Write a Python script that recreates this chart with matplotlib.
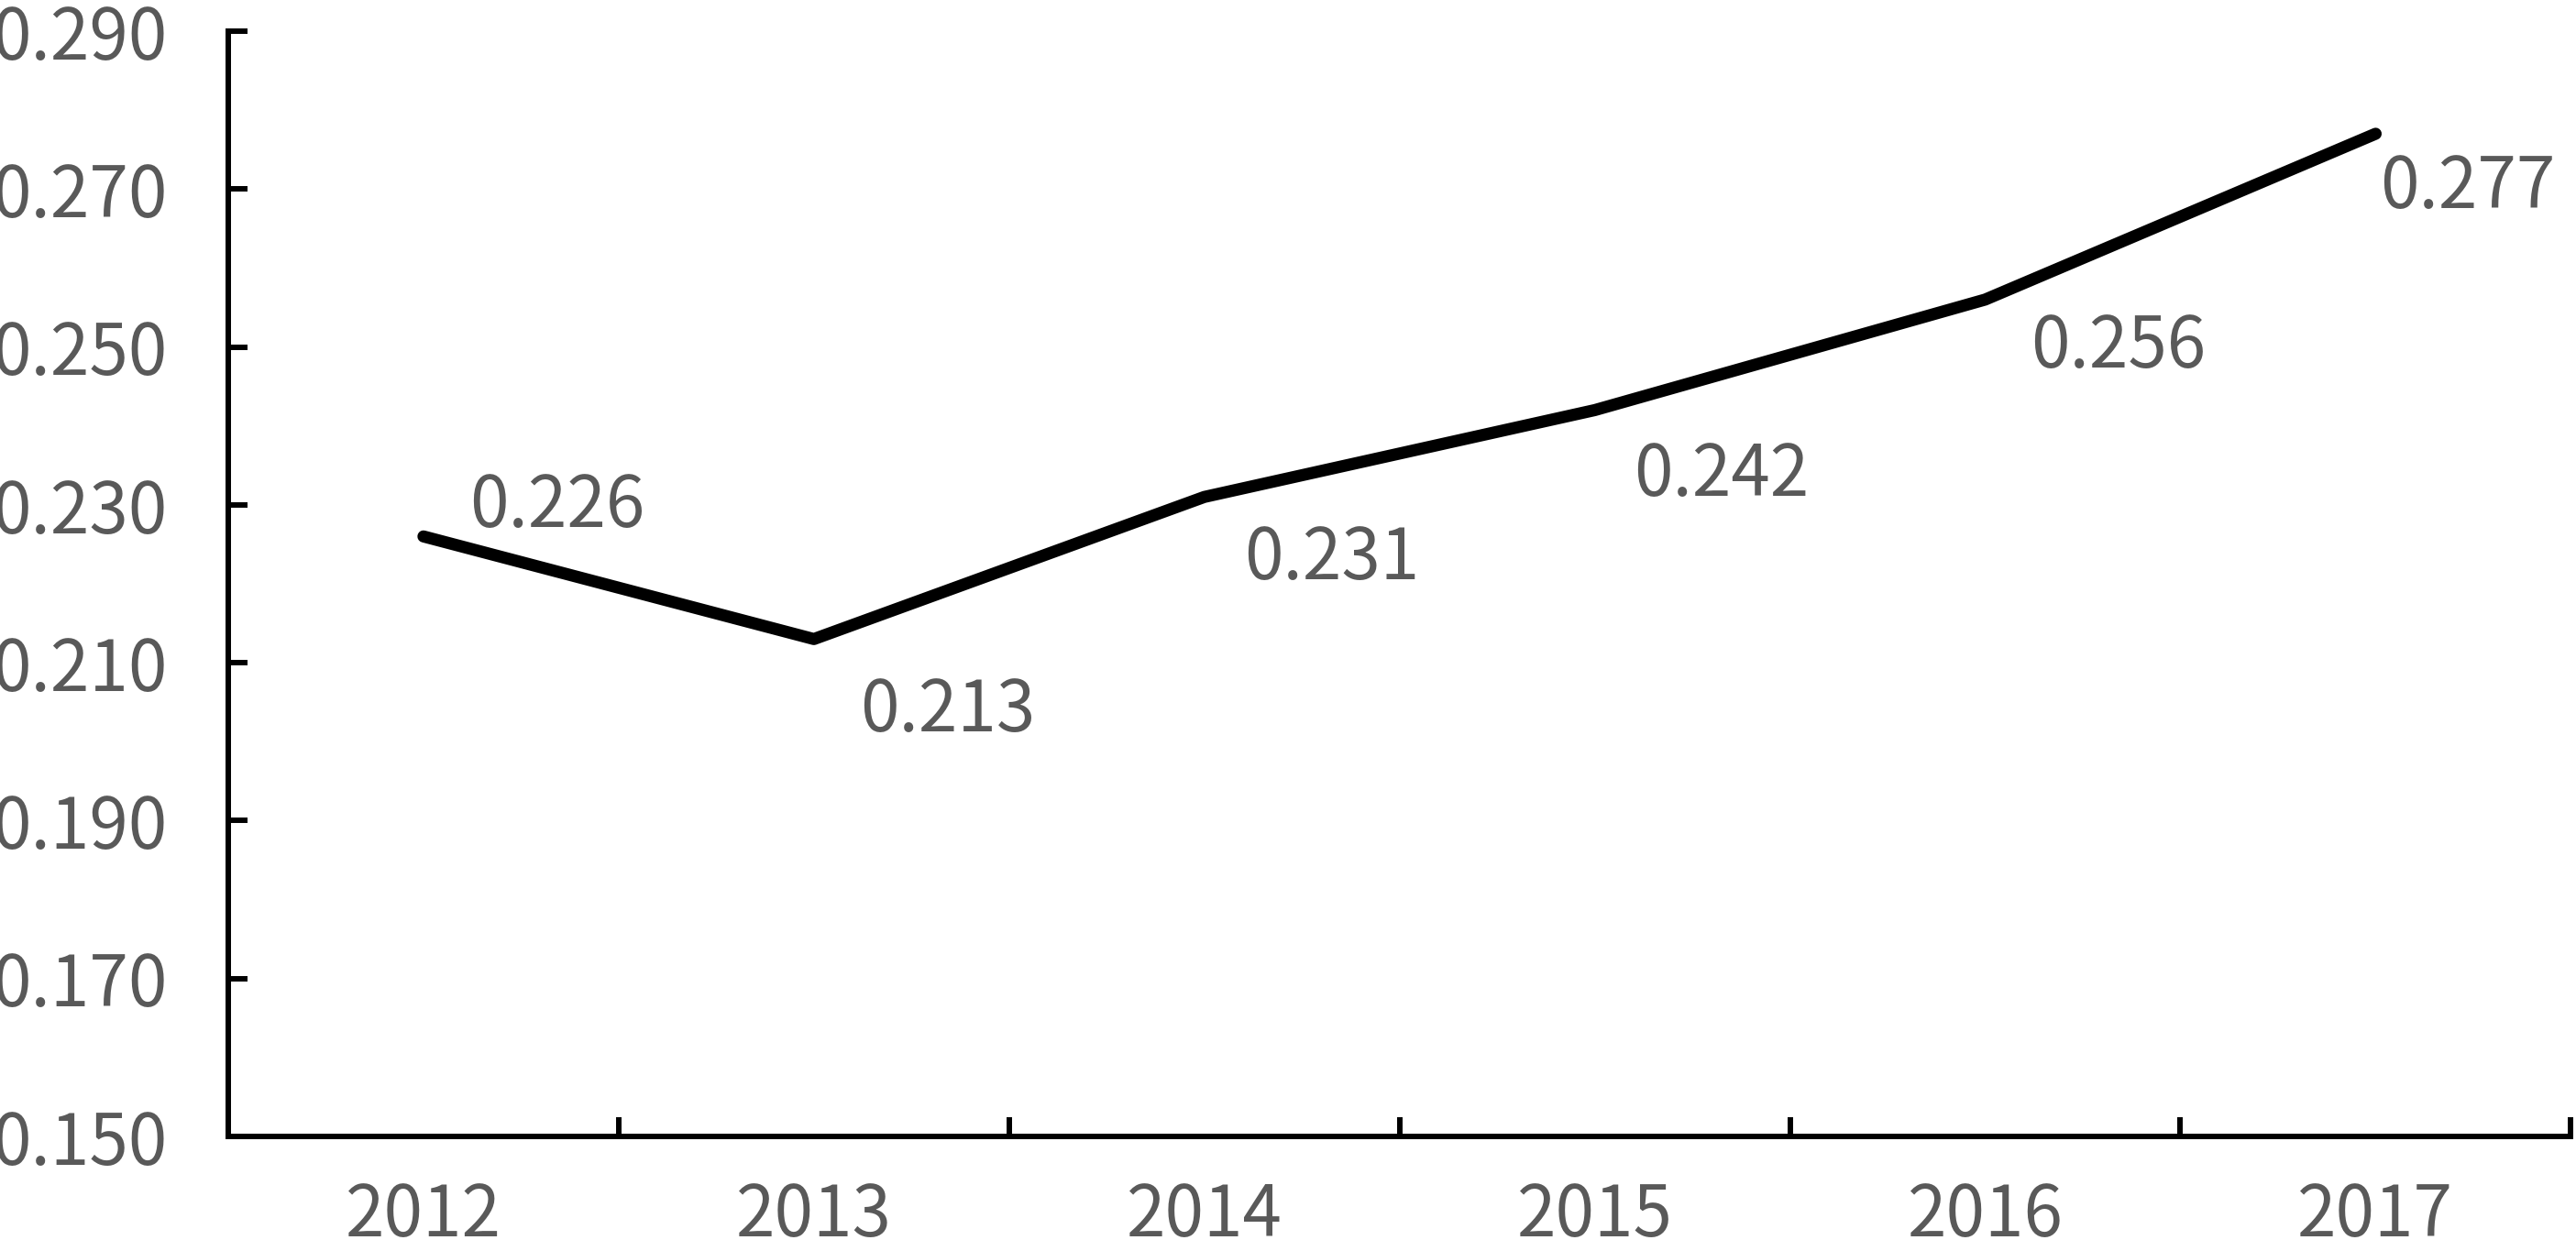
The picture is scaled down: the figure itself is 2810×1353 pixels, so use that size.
import matplotlib
matplotlib.use("Agg")
import matplotlib.pyplot as plt

plt.rcParams['font.family'] = ['Noto Sans CJK SC', 'DejaVu Sans']
plt.rcParams['font.weight'] = 'light'

years = ["2012", "2013", "2014", "2015", "2016", "2017"]
values = [0.226, 0.213, 0.231, 0.242, 0.256, 0.277]
yticks = [0.150, 0.170, 0.190, 0.210, 0.230, 0.250, 0.270, 0.290]

# label offsets (pixels, from the point)
label_dx = [50, 50, 43, 43, 50, 5]
label_dy = [32, -79, -68, -72, -52, -59]

grey = "#595959"

fig = plt.figure(figsize=(28.1, 13.53), dpi=100)
ax = fig.add_axes([0.0886, 0.0835, 0.9094, 0.8914])

x = list(range(len(years)))
ax.plot(x, values, color="black", lw=9.5, solid_capstyle="round", solid_joinstyle="round")

for i, v in enumerate(values):
    ax.annotate(f"{v:.3f}", (x[i], v), xytext=(label_dx[i], label_dy[i]),
                textcoords="offset pixels", ha="left", va="center",
                fontsize=55, color=grey, fontweight="light")

ax.set_xlim(-0.5, len(years) - 0.5)
ax.set_ylim(0.150, 0.290)
ax.set_yticks(yticks)
ax.set_yticklabels([f"{t:.3f}" for t in yticks])
ax.set_xticks([i + 0.5 for i in x])
ax.set_xticklabels([])
ax.set_xticks(x, minor=True)
ax.set_xticklabels(years, minor=True)

for s in ["top", "right"]:
    ax.spines[s].set_visible(False)
for s in ["left", "bottom"]:
    ax.spines[s].set_linewidth(4.3)
    ax.spines[s].set_capstyle("projecting")

ax.tick_params(axis="y", direction="in", length=15, width=4.3, pad=48,
               labelsize=55, labelcolor=grey)
ax.tick_params(axis="x", which="major", direction="in", length=15, width=4.3)
ax.tick_params(axis="x", which="minor", length=0, pad=34,
               labelsize=55, labelcolor=grey)

fig.savefig("out.png", dpi=100)
